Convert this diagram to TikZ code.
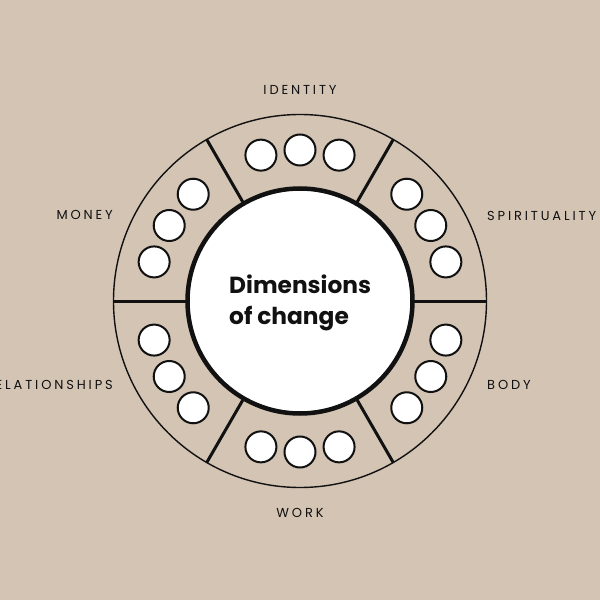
\documentclass[tikz,border=0pt]{standalone}
\usepackage{fontspec}
\setmainfont{Poppins}
\newfontfamily\labelfont[LetterSpace=22]{Poppins}
\definecolor{bg}{RGB}{211,196,180}
\definecolor{ink}{RGB}{17,17,17}
\begin{document}
\begin{tikzpicture}[x=1pt,y=1pt,
  dot/.style={circle,draw=ink,fill=white,line width=2pt,minimum size=31pt,inner sep=0pt,outer sep=0pt},
  divider/.style={draw=ink,line width=3pt},
  lbl/.style={font=\labelfont\fontsize{13}{15}\selectfont,text=ink,inner sep=0pt}]
\fill[bg] (-300,-299) rectangle (300,301);
\useasboundingbox (-300,-299) rectangle (300,301);
\node[circle,draw=ink,line width=1.4pt,minimum size=373pt,inner sep=0pt,outer sep=0pt] (outer) at (0,0) {};
\node[circle,draw=ink,fill=white,line width=4.5pt,minimum size=225pt,inner sep=0pt,outer sep=0pt] (inner) at (0,0) {};
\foreach \a in {0,60,...,300} \draw[divider] (inner.\a) -- (outer.\a);
\foreach \c/\n in {90/id,30/sp,-30/bo,-90/wo,-150/re,150/mo}{
  \foreach \d/\k in {15/1,0/2,-15/3}{
    \node[dot] (\n\k) at (\c+\d:151) {};
  }
}
\node[anchor=north west,align=left,inner sep=0pt,font=\bfseries\fontsize{23.3}{31}\selectfont,text=ink] (title) at (-71,26) {Dimensions\\of change};
\node[lbl] (lid) at (0,211) {IDENTITY};
\node[lbl] (lwo) at (0,-212) {WORK};
\node[lbl,anchor=west] (lsp) at (187,85.5) {SPIRITUALITY};
\node[lbl,anchor=west] (lbo) at (187,-84) {BODY};
\node[lbl,anchor=east] (lmo) at (-187,86) {MONEY};
\node[lbl,anchor=east] (lre) at (-187,-84) {RELATIONSHIPS};
\end{tikzpicture}
\end{document}
